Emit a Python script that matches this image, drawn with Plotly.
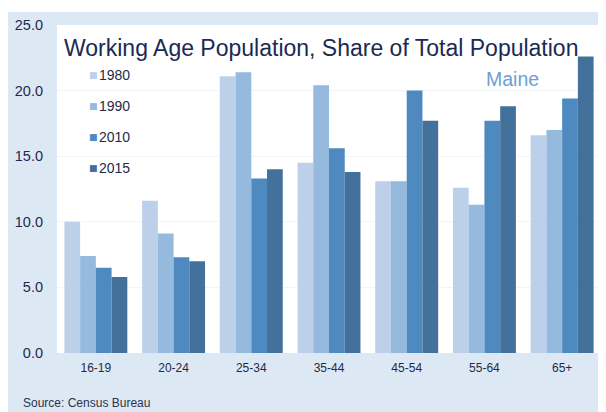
import plotly.graph_objects as go

categories = ["16-19", "20-24", "25-34", "35-44", "45-54", "55-64", "65+"]
years = ["1980", "1990", "2010", "2015"]
v1980 = [10.0, 11.6, 21.1, 14.5, 13.1, 12.6, 16.6]
v1990 = [7.4, 9.1, 21.4, 20.4, 13.1, 11.3, 17.0]
v2010 = [6.5, 7.3, 13.3, 15.6, 20.0, 17.7, 19.4]
v2015 = [5.8, 7.0, 14.0, 13.8, 17.7, 18.8, 22.6]
yticks = [0, 5, 10, 15, 20, 25]

series = [v1980, v1990, v2010, v2015]
colors = ["#bdd0e9", "#96b9de", "#4e89c0", "#43719c"]

OFF = 8  # page offset of the figure (body margin)
W, H = 598, 404
ml, mr, mt, mb = 49, 5, 17, 59
pw, ph = W - ml - mr, H - mt - mb

fig = go.Figure()
for yr, vals, c in zip(years, series, colors):
    fig.add_trace(go.Bar(x=categories, y=vals, name=yr, marker_color=c,
                         marker_line_width=0, showlegend=False))

def px_x(p):
    return (p - OFF - ml) / pw

def px_y(p):
    return 1 - (p - OFF - mt) / ph

annotations = [
    dict(text="Working Age Population, Share of Total Population",
         xref="paper", yref="paper", x=px_x(62), y=px_y(48),
         xanchor="left", yanchor="middle", showarrow=False,
         font=dict(size=23, color="#1c2a52")),
    dict(text="Maine", xref="paper", yref="paper", x=px_x(484), y=px_y(79),
         xanchor="left", yanchor="middle", showarrow=False,
         font=dict(size=19.5, color="#6b9fd6")),
    dict(text="Source: Census Bureau", xref="paper", yref="paper",
         x=px_x(21), y=px_y(403), xanchor="left", yanchor="middle",
         showarrow=False, font=dict(size=12, color="#2a3350")),
]
leg_y = [75, 106, 137, 168]
for yr, c, yy in zip(years, colors, leg_y):
    annotations.append(dict(text="■", xref="paper", yref="paper",
                            x=px_x(93), y=px_y(yy), xanchor="center", yanchor="middle",
                            showarrow=False, font=dict(size=9, color=c,
                            family="DejaVu Sans")))
    annotations.append(dict(text=yr, xref="paper", yref="paper",
                            x=px_x(97), y=px_y(yy), xanchor="left", yanchor="middle",
                            showarrow=False, font=dict(size=14, color="#1f2a4a")))

fig.update_layout(
    width=W, height=H,
    margin=dict(l=ml, r=mr, t=mt, b=mb),
    paper_bgcolor="#dde8f5",
    plot_bgcolor="#ffffff",
    barmode="group", bargap=0.19, bargroupgap=0,
    font=dict(family="Liberation Sans, Arial, sans-serif", color="#1f2a4a"),
    showlegend=False,
    xaxis=dict(type="category", range=[-0.5, 6.5], showgrid=False, ticks="",
               tickfont=dict(size=12, color="#1f2a4a"), showline=False,
               ticklabelstandoff=6),
    yaxis=dict(range=[0, 25], tickvals=yticks,
               ticktext=[f"{v:.1f}" for v in yticks], showgrid=True,
               gridcolor="#f1f4f8", zeroline=False, ticks="",
               tickfont=dict(size=14.5, color="#1f2a4a"), ticklabelstandoff=13),
    shapes=[
        dict(type="rect", xref="paper", yref="paper", x0=px_x(0), x1=px_x(620),
             y0=px_y(12), y1=px_y(6), fillcolor="#ffffff", line_width=0, layer="above"),
    ],
    annotations=annotations,
)

fig.write_html("out.html")
